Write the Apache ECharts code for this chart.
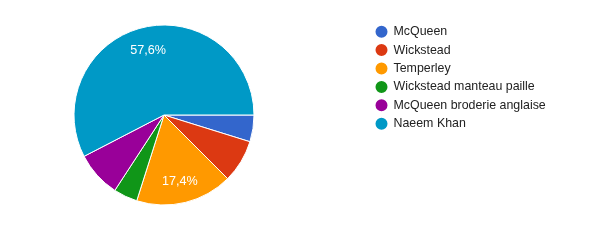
<!DOCTYPE html>
<html><head><meta charset="utf-8">
<script src="https://cdn.jsdelivr.net/npm/echarts@6/dist/echarts.min.js"></script>
<style>html,body{margin:0;padding:0;background:#fff}#c{width:604px;height:242px}</style>
</head><body><div id="c"></div>
<script>
const categories = ["McQueen", "Wickstead", "Temperley", "Wickstead manteau paille", "McQueen broderie anglaise", "Naeem Khan"];
const values = [4.8, 7.7, 17.4, 4.3, 8.2, 57.6];
const colors = ["#3366cc", "#dc3912", "#ff9900", "#109618", "#990099", "#0099c6"];
const labelThreshold = 10;

const data = categories.map((n, i) => ({ name: n, value: values[i], itemStyle: { color: colors[i] } }));
const fmt = p => p.value >= labelThreshold ? p.value.toFixed(1).replace('.', ',') + '%' : '';

const chart = echarts.init(document.getElementById('c'), null, { renderer: 'canvas' });
chart.setOption({
  animation: false,
  textStyle: { fontFamily: 'Liberation Sans, Arial, sans-serif' },
  legend: {
    orient: 'vertical', left: 373.5, top: 23.7, padding: 0,
    icon: 'circle', itemWidth: 14, itemHeight: 14, itemGap: 2.4,
    textStyle: { fontSize: 12.4, color: '#222', lineHeight: 14, padding: [0, 0, 0, 0], fontFamily: 'Liberation Sans, Arial, sans-serif' },
    data: categories
  },
  series: [
    {
      type: 'pie', center: [164, 115], radius: [0, 90], startAngle: 0, clockwise: true,
      itemStyle: { borderColor: '#fff', borderWidth: 1 },
      label: { show: false }, labelLine: { show: false }, emphasis: { disabled: true },
      data: data
    },
    {
      type: 'pie', center: [164, 116], radius: [0, 129], startAngle: 0, clockwise: true, silent: true,
      legendHoverLink: false,
      itemStyle: { color: 'rgba(0,0,0,0)', borderWidth: 0 },
      label: { show: true, position: 'inside', formatter: fmt, color: '#fff', fontSize: 12.6, fontFamily: 'Liberation Sans, Arial, sans-serif' },
      labelLine: { show: false }, emphasis: { disabled: true },
      data: categories.map((n, i) => ({ name: n + ' ', value: values[i], itemStyle: { color: 'rgba(0,0,0,0)' } }))
    }
  ]
});
</script></body></html>
